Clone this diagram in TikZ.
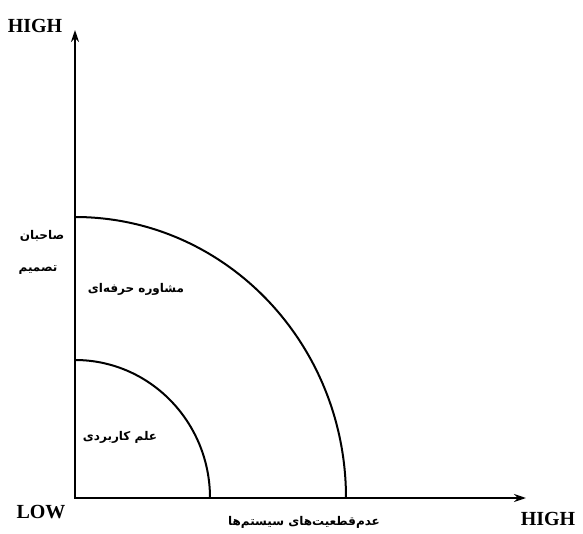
\documentclass[tikz,border=0pt]{standalone}
\usepackage{fontspec}
\setmainfont{Liberation Serif}
\newfontfamily\farsi[Script=Arabic]{DejaVu Sans}
\TeXXeTstate=1
\usetikzlibrary{arrows.meta}
\begin{document}
\begin{tikzpicture}[x=1pt,y=1pt,
  achse/.style={line width=2.8pt,line join=miter,{Stealth[length=12pt,width=8pt]}-{Stealth[length=12pt,width=8pt]}},
  bogen/.style={line width=2pt},
  marke/.style={font=\bfseries\fontsize{20}{22}\selectfont},
  fa/.style={font=\farsi\bfseries\fontsize{12}{14}\selectfont}]
\useasboundingbox (0,0) rectangle (583,533);
% Ursprung und Achsenenden
\coordinate (O) at (75,35);
\coordinate (ytop) at (75,503);
\coordinate (xend) at (526,35);
% Viertelboegen
\draw[bogen] (210,35) arc[start angle=0,end angle=90,x radius=135,y radius=138];
\draw[bogen] (346,35) arc[start angle=0,end angle=90,x radius=271,y radius=281];
% Achsen
\draw[achse] (ytop) -- (O) -- (xend);
% Beschriftung der Achsen
\node[marke] (hochY) at (35,507) {HIGH};
\node[marke] (tief) at (41,21) {LOW};
\node[marke] (hochX) at (548,14) {HIGH};
\node[fa] (entsch1) at (42,297) {\beginR صاحبان\endR};
\node[fa] (entsch2) at (38,263) {\beginR تصمیم\endR};
\node[fa] (unsicher) at (304,11) {\beginR عدم‌قطعیت‌های سیستم‌ها\endR};
% Bereiche
\node[fa] (beratung) at (136,244) {\beginR مشاوره حرفه‌ای\endR};
\node[fa] (wissen) at (120,96) {\beginR علم کاربردی\endR};
\end{tikzpicture}
\end{document}
